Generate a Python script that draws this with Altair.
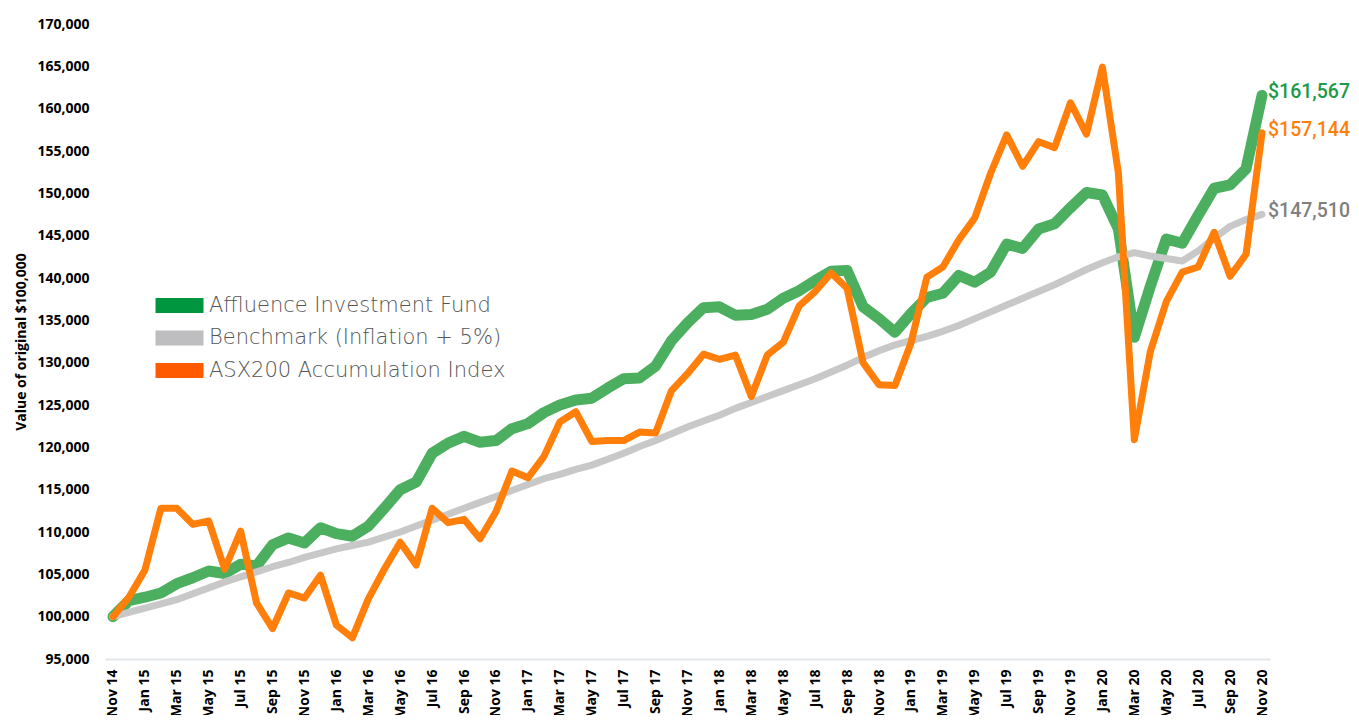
import altair as alt
import pandas as pd

months = [
    "Nov 14", "Dec 14",
    "Jan 15", "Feb 15", "Mar 15", "Apr 15", "May 15", "Jun 15", "Jul 15", "Aug 15", "Sep 15", "Oct 15", "Nov 15", "Dec 15",
    "Jan 16", "Feb 16", "Mar 16", "Apr 16", "May 16", "Jun 16", "Jul 16", "Aug 16", "Sep 16", "Oct 16", "Nov 16", "Dec 16",
    "Jan 17", "Feb 17", "Mar 17", "Apr 17", "May 17", "Jun 17", "Jul 17", "Aug 17", "Sep 17", "Oct 17", "Nov 17", "Dec 17",
    "Jan 18", "Feb 18", "Mar 18", "Apr 18", "May 18", "Jun 18", "Jul 18", "Aug 18", "Sep 18", "Oct 18", "Nov 18", "Dec 18",
    "Jan 19", "Feb 19", "Mar 19", "Apr 19", "May 19", "Jun 19", "Jul 19", "Aug 19", "Sep 19", "Oct 19", "Nov 19", "Dec 19",
    "Jan 20", "Feb 20", "Mar 20", "Apr 20", "May 20", "Jun 20", "Jul 20", "Aug 20", "Sep 20", "Oct 20", "Nov 20",
]

affluence = [
    100000, 101900, 102300, 102800, 103900, 104600, 105400, 105100, 106200, 106000,
    108500, 109300, 108700, 110500, 109800, 109500, 110700, 112800, 115000, 115900,
    119300, 120500, 121300, 120600, 120800, 122200, 122800, 124100, 125000, 125600,
    125800, 127000, 128100, 128200, 129600, 132600, 134700, 136500, 136600, 135600,
    135700, 136300, 137600, 138500, 139700, 140800, 140900, 136600, 135200, 133600,
    135800, 137700, 138200, 140300, 139500, 140700, 144000, 143500, 145800, 146400,
    148300, 150100, 149800, 145800, 133000, 139000, 144600, 144100, 147400, 150600,
    151000, 152900, 161567,
]

benchmark = [
    100000, 100500, 101000, 101500, 102000, 102700, 103400, 104100, 104700, 105300,
    105900, 106400, 107000, 107500, 108000, 108400, 108800, 109400, 110000, 110700,
    111400, 112100, 112800, 113500, 114200, 114900, 115600, 116300, 116800, 117400,
    117900, 118600, 119300, 120100, 120800, 121600, 122400, 123100, 123800, 124600,
    125300, 126000, 126700, 127400, 128100, 128900, 129700, 130600, 131400, 132100,
    132600, 133100, 133700, 134400, 135200, 136000, 136800, 137600, 138400, 139200,
    140100, 141000, 141800, 142500, 143000, 142600, 142300, 142000, 143200, 144700,
    146100, 146900, 147510,
]

asx200 = [
    100000, 102300, 105500, 112800, 112800, 110900, 111300, 105600, 110100, 101600,
    98600, 102800, 102200, 104900, 99000, 97500, 102100, 105600, 108800, 106100,
    112800, 111100, 111500, 109200, 112400, 117200, 116400, 118900, 123000, 124200,
    120700, 120800, 120800, 121800, 121700, 126700, 128700, 131000, 130400, 130900,
    126000, 130900, 132400, 136700, 138400, 140600, 138800, 130000, 127400, 127300,
    132300, 140100, 141300, 144500, 147100, 152400, 156900, 153200, 156100, 155400,
    160700, 157000, 164900, 152400, 120900, 131300, 137200, 140700, 141300, 145400,
    140200, 142800, 157144,
]

series_names = ["Affluence Investment Fund", "Benchmark (Inflation + 5%)", "ASX200 Accumulation Index"]
line_colors = ["#4caf5f", "#c8c8c8", "#ff7f0a"]
legend_colors = ["#00963f", "#bebec0", "#ff5a00"]
label_colors = ["#1d9a47", "#7f7f7f", "#ff7f0a"]
line_widths = [11, 7, 7]
y_ticks = list(range(95000, 170001, 5000))

rows = []
for name, vals in zip(series_names, [affluence, benchmark, asx200]):
    for m, v in zip(months, vals):
        rows.append({"month": m, "series": name, "value": v})
df = pd.DataFrame(rows)

x_enc = alt.X(
    "month:O",
    sort=months,
    scale=alt.Scale(type="point", padding=0.5),
    axis=alt.Axis(
        values=months[::2], labelAngle=-90, labelFont="Open Sans", labelFontWeight="bold",
        labelFontSize=14, labelColor="#000000", ticks=False, domainColor="#e3e7ea",
        domainWidth=2, labelPadding=10, title=None, grid=False,
    ),
)
y_enc = alt.Y(
    "value:Q",
    scale=alt.Scale(domain=[95000, 170000], nice=False, zero=False),
    axis=alt.Axis(
        values=y_ticks, labelExpr="format(datum.value, ',')", labelFont="Open Sans",
        labelFontWeight="bold", labelFontSize=14, labelColor="#000000", ticks=False,
        domain=False, grid=False, labelPadding=16, title="Value of original $100,000",
        titleFont="Open Sans", titleFontSize=14, titleFontWeight="bold",
        titleColor="#000000", titlePadding=8,
    ),
)

base = alt.Chart(df)

def line_layer(i):
    return base.transform_filter(alt.datum.series == series_names[i]).mark_line(
        strokeWidth=line_widths[i], strokeCap="round", strokeJoin="round"
    ).encode(
        x=x_enc, y=y_enc,
        stroke=alt.Stroke("series:N", scale=alt.Scale(domain=series_names, range=line_colors), legend=None),
    )

start_point = base.transform_filter(
    (alt.datum.series == series_names[0]) & (alt.datum.month == months[0])
).mark_point(filled=True, fill="#ffffff", stroke="#4caf5f", strokeWidth=1.5, size=70, opacity=1).encode(
    x=x_enc, y=y_enc
)

legend_layer = base.transform_filter("false").mark_square().encode(
    x=x_enc, y=y_enc,
    fill=alt.Fill(
        "series:N",
        scale=alt.Scale(domain=series_names, range=legend_colors),
        legend=alt.Legend(
            title=None, orient="none", legendX=64, legendY=271, padding=0,
            symbolType="M-3.2,-1H3.2V1H-3.2Z", symbolSize=225, symbolStrokeWidth=0,
            symbolOpacity=1, labelFont="DejaVu Sans", labelFontWeight=200, labelFontSize=21,
            labelColor="#555555", labelOffset=19, rowPadding=10.5, labelLimit=400,
        ),
    ),
)

end_labels = base.transform_filter(alt.datum.month == months[-1]).transform_calculate(
    label="'$' + format(datum.value, ',')"
).mark_text(align="left", baseline="middle", dx=6, dy=-3, font="Roboto", fontSize=19.5, fontWeight=500).encode(
    x=x_enc, y=y_enc,
    text="label:N",
    color=alt.Color("series:N", scale=alt.Scale(domain=series_names, range=label_colors), legend=None),
)

chart = alt.layer(
    legend_layer, line_layer(0), start_point, line_layer(1), line_layer(2), end_labels
).properties(
    width=1165, height=635,
    autosize=alt.AutoSizeParams(type="none"),
    padding={"left": 97, "top": 16, "right": 81, "bottom": 56},
).configure(background="#ffffff").configure_view(stroke=None)

chart.save("out.html", embed_options={"renderer": "svg", "actions": False})
